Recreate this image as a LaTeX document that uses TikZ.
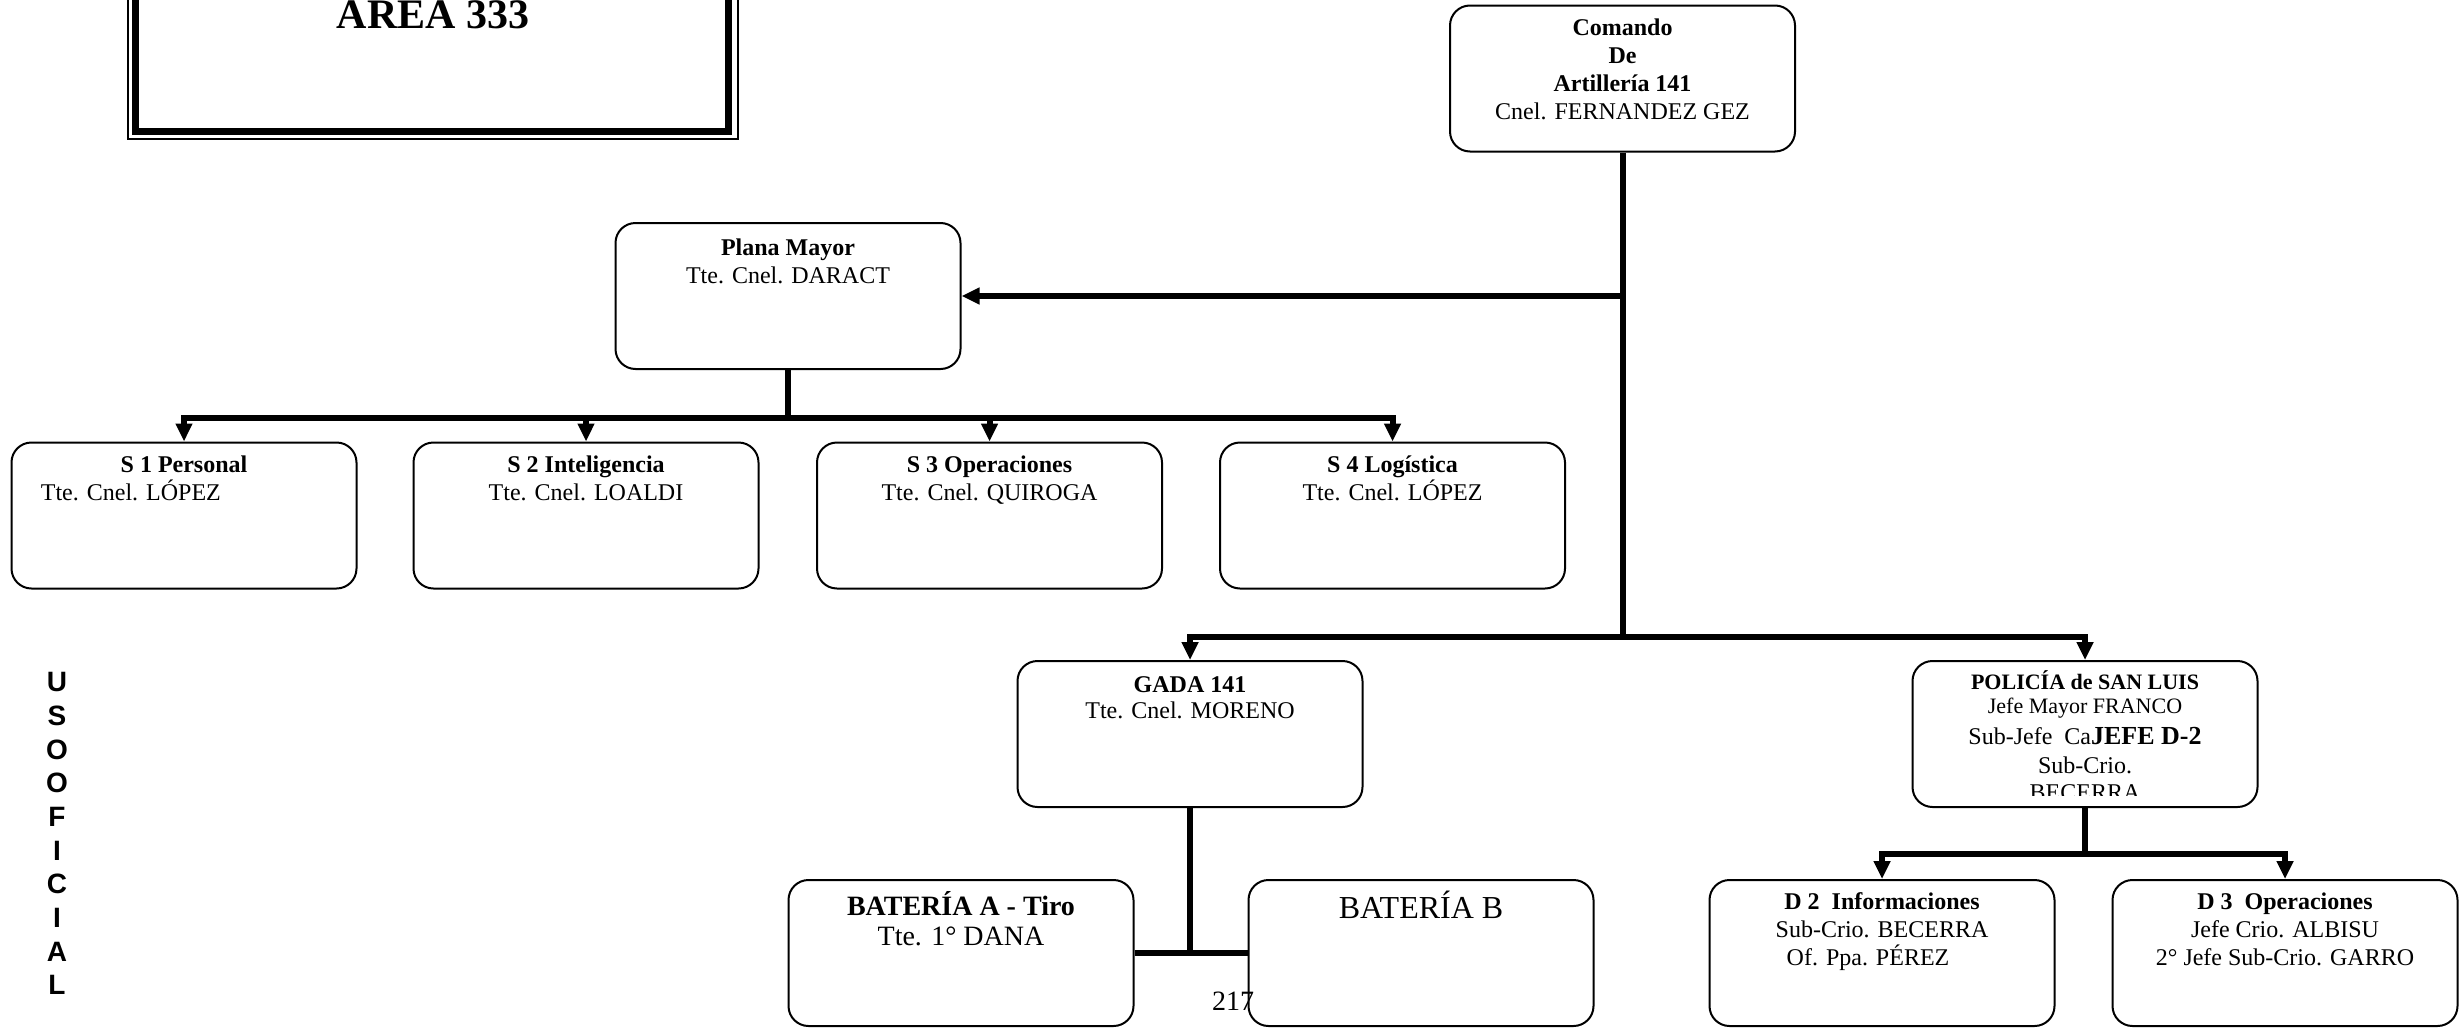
\documentclass[tikz,border=0pt]{standalone}
\usepackage{fontspec}
\setmainfont{Liberation Serif}
\setsansfont{Liberation Sans}
\usepackage{tikz}
\usetikzlibrary{arrows.meta, positioning}
\tikzset{
    boxnode/.style = {draw, rectangle, rounded corners=10pt, line width=1pt, inner sep=0em,
      minimum width=172.5pt, minimum height=73pt},
    textnode/.style = {draw=none, fill=none, rectangle, inner sep=0em, align=center,
      font=\fontsize{12}{14}\selectfont},
    thickline/.style = {black, line width=3pt},
    connect/.style = {black, line width=3pt, -{Triangle[length=9pt, width=8pt]}},
    every text node part/.style={align=center}
}
\newcommand{\topstrut}[1][11pt]{\rule{0pt}{#1}}

\begin{document}
\begin{tikzpicture}[x=0.5pt, y=-0.5pt]
    \useasboundingbox (0,0) rectangle (2462,1028);

    % titulo
    \draw[line width=0.75pt] (128,-20) rectangle (738,139);
    \draw[line width=3.5pt] (135.5,-20) rectangle (728,131);
    \node [name=area, inner sep=0em, anchor=base, font=\fontsize{21}{24}\selectfont\bfseries] at (433,28) {AREA 333};

    \node [name=uso, textnode, anchor=north,
        font=\sffamily\bfseries\fontsize{14}{16.85}\selectfont] at (57,672) {U\\S\\O\\O\\F\\I\\C\\I\\A\\L};

    % comando
    \node [name=coman, boxnode] at (1622.5,78.5) {};
    \node [name=comant, textnode, below=4.35pt of coman.north] {\topstrut\textbf{Comando}\\\textbf{De}\\\textbf{Artillería 141}\\Cnel. FERNANDEZ GEZ};

    % plana mayor
    \node [name=plana, boxnode] at (788,296) {};
    \node [name=planat, textnode, below=5.5pt of plana.north] {\topstrut\textbf{Plana Mayor}\\Tte. Cnel. DARACT};

    \node [name=s1, boxnode] at (184,515.5) {};
    \node [name=s1t, textnode, below=4.5pt of s1.north] {\topstrut\textbf{S 1 Personal}};
    \node [name=s1n, textnode, below right=18.5pt and 15pt of s1.north west] {\topstrut Tte. Cnel. LÓPEZ};

    \node [name=s2, boxnode] at (586,515.5) {};
    \node [name=s2t, textnode, below=4.5pt of s2.north] {\topstrut\textbf{S 2 Inteligencia}\\Tte. Cnel. LOALDI};

    \node [name=s3, boxnode] at (989.5,515.5) {};
    \node [name=s3t, textnode, below=4.5pt of s3.north] {\topstrut\textbf{S 3 Operaciones}\\Tte. Cnel. QUIROGA};

    \node [name=s4, boxnode] at (1392.5,515.5) {};
    \node [name=s4t, textnode, below=4.5pt of s4.north] {\topstrut\textbf{S 4 Logística}\\Tte. Cnel. LÓPEZ};

    % gada y policia
    \node [name=gada, boxnode] at (1190,734) {};
    \node [name=gadat, textnode, below=5pt of gada.north, font=\fontsize{12}{13}\selectfont] {\topstrut\textbf{GADA 141}\\Tte. Cnel. MORENO};

    \node [name=polic, boxnode] at (2085,734) {};
    \begin{scope}
        \clip (1900,650) rectangle (2270,795);
        \node [name=polict, textnode, below=3.5pt of polic.north, font=\fontsize{11}{12}\selectfont]
            {\topstrut\textbf{POLICÍA de SAN LUIS}\\Jefe Mayor FRANCO\\[3.5pt]{\fontsize{12}{12}\selectfont Sub-Jefe\ \ Ca}{\fontsize{13}{13}\selectfont\bfseries JEFE D-2}\\[2.5pt]{\fontsize{12}{12}\selectfont Sub-Crio.}\\[1.5pt]{\fontsize{12}{12}\selectfont BECERRA}};
    \end{scope}

    % baterias
    \node [name=bata, boxnode] at (961,953) {};
    \node [name=batat, textnode, below=4.5pt of bata.north, font=\fontsize{14}{15}\selectfont] {\topstrut[13.5pt]\textbf{BATERÍA A - Tiro}\\Tte. 1° DANA};

    \node [name=batb, boxnode] at (1421,953) {};
    \node [name=batbt, textnode, below=4.5pt of batb.north, font=\fontsize{16}{18}\selectfont] {\topstrut[15pt]BATERÍA B};

    % departamentos
    \node [name=d2, boxnode] at (1882,953) {};
    \node [name=d2t, textnode, below=4pt of d2.north] {\topstrut\textbf{D 2\ \ Informaciones}\\Sub-Crio. BECERRA\\Of. Ppa. PÉREZ\hspace*{14pt}};

    \node [name=d3, boxnode] at (2285,953) {};
    \node [name=d3t, textnode, below=4pt of d3.north] {\topstrut\textbf{D 3\ \ Operaciones}\\Jefe Crio. ALBISU\\2° Jefe Sub-Crio. GARRO};

    \node [name=pagenum, inner sep=0em, anchor=base, font=\fontsize{14}{16}\selectfont] at (1233,1010) {217};

    % conexiones
    \coordinate (jmain) at (1622.5,637);
    \coordinate (jplana) at (788,418);
    \coordinate (jpol) at (2085,854);

    \draw [thickline] (coman.south) -- (jmain);
    \draw [connect] (coman.south |- plana.east) -- (plana.east);
    \draw [connect] (jmain) -| (gada.north);
    \draw [connect] (jmain) -| (polic.north);

    \draw [thickline] (plana.south) -- (jplana);
    \foreach \s in {s1,s2,s3,s4}
        \draw [connect] (jplana) -| (\s.north);

    \draw [thickline] (polic.south) -- (jpol);
    \draw [connect] (jpol) -| (d2.north);
    \draw [connect] (jpol) -| (d3.north);

    \draw [thickline] (gada.south) -- (gada.south |- bata.east);
    \draw [thickline] (bata.east) -- (batb.west);
\end{tikzpicture}
\end{document}
